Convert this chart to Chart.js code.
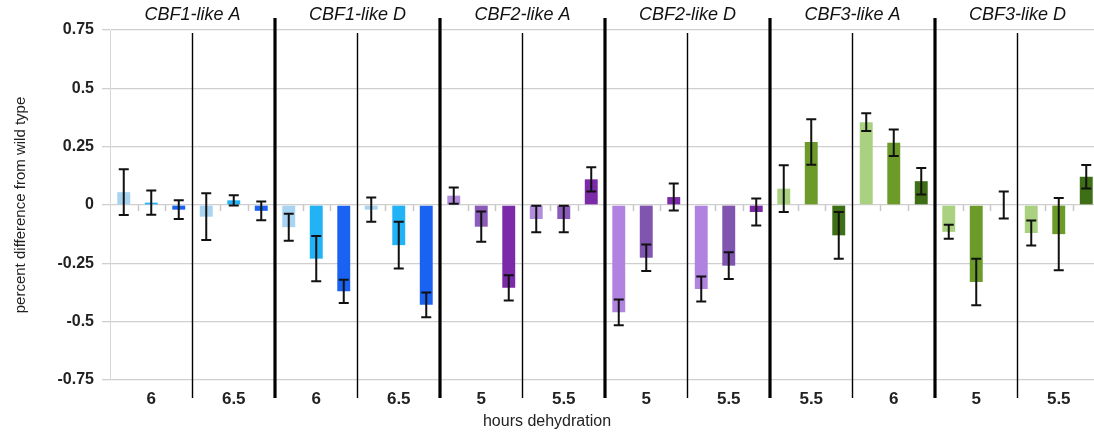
<!DOCTYPE html>
<html>
<head>
<meta charset="utf-8">
<title>CBF expression after dehydration</title>
<script src="https://cdn.jsdelivr.net/npm/chart.js@4.4.1/dist/chart.umd.min.js"></script>
<style>
  html, body { margin: 0; padding: 0; background: #fff; overflow: hidden; }
  #wrap { width: 1110px; height: 434px; }
</style>
</head>
<body>
<div id="wrap"><canvas id="chart" width="1110" height="434"></canvas></div>
<script>
"use strict";

// two time points per gene panel
const hours = ["6", "6.5", "6", "6.5", "5", "5.5", "5", "5.5", "5.5", "6", "5", "5.5"];
const panels = ["CBF1-like A", "CBF1-like D", "CBF2-like A", "CBF2-like D", "CBF3-like A", "CBF3-like D"];

// three lines per time point (light -> dark)
const line1 = [0.055, -0.05, -0.095, -0.02, 0.04, -0.06, -0.46, -0.36, 0.07, 0.355, -0.115, -0.12];
const line2 = [0.01, 0.02, -0.23, -0.172, -0.093, -0.06, -0.226, -0.26, 0.27, 0.267, -0.33, -0.125];
const line3 = [-0.02, -0.025, -0.37, -0.428, -0.355, 0.11, 0.034, -0.03, -0.13, 0.102, 0, 0.121];

const err1 = [0.098, 0.1, 0.058, 0.052, 0.035, 0.057, 0.055, 0.054, 0.1, 0.038, 0.03, 0.054];
const err2 = [0.052, 0.022, 0.097, 0.1, 0.065, 0.057, 0.057, 0.057, 0.097, 0.057, 0.1, 0.155];
const err3 = [0.04, 0.04, 0.05, 0.053, 0.054, 0.052, 0.058, 0.058, 0.1, 0.057, 0.058, 0.05];

// shades per panel
const panelColors = [
  ["#a8d3f1", "#22b2f6", "#1a62f2"],
  ["#a8d3f1", "#22b2f6", "#1a62f2"],
  ["#b28ddd", "#8a5bb9", "#7b2aa8"],
  ["#b183e0", "#7f55b0", "#7b2aa8"],
  ["#a9d17f", "#6c9b2a", "#3e6f16"],
  ["#a9d17f", "#6c9b2a", "#3e6f16"],
];

const shade = (k) => hours.map((h, i) => panelColors[Math.floor(i / 2)][k]);
const errs = [err1, err2, err3];

const FONT = "'Liberation Sans', Arial, sans-serif";

const decorations = {
  id: "decorations",
  afterDatasetsDraw(chart) {
    const { ctx, scales } = chart;
    const x = scales.x, y = scales.y;
    const step = x.getPixelForTick(1) - x.getPixelForTick(0);
    const zero = y.getPixelForValue(0);
    ctx.save();

    // small ticks on the zero line between bars
    ctx.strokeStyle = "#c8c8c8";
    ctx.lineWidth = 1.5;
    hours.forEach((h, i) => {
      const left = x.getPixelForTick(i) - step / 2;
      [1, 2].forEach((k) => {
        const px = Math.round(left + (step * k) / 3) + 0.5;
        ctx.beginPath();
        ctx.moveTo(px, zero);
        ctx.lineTo(px, zero + 6);
        ctx.stroke();
      });
    });

    // error bars
    ctx.strokeStyle = "#111";
    ctx.lineWidth = 2;
    chart.data.datasets.forEach((ds, d) => {
      const meta = chart.getDatasetMeta(d);
      meta.data.forEach((bar, i) => {
        const v = ds.data[i], e = errs[d][i];
        const top = y.getPixelForValue(v + e);
        const bot = y.getPixelForValue(v - e);
        ctx.beginPath();
        ctx.moveTo(bar.x, top);
        ctx.lineTo(bar.x, bot);
        ctx.moveTo(bar.x - 5, top);
        ctx.lineTo(bar.x + 5, top);
        ctx.moveTo(bar.x - 5, bot);
        ctx.lineTo(bar.x + 5, bot);
        ctx.stroke();
      });
    });

    // separators: thin between time points, thick between panels
    ctx.strokeStyle = "#000";
    for (let i = 0; i < hours.length - 1; i++) {
      const px = (x.getPixelForTick(i) + x.getPixelForTick(i + 1)) / 2;
      const thick = i % 2 === 1;
      ctx.lineWidth = thick ? 3.2 : 1.4;
      ctx.beginPath();
      ctx.moveTo(px, thick ? 18 : 33);
      ctx.lineTo(px, 398);
      ctx.stroke();
    }

    // panel headings
    ctx.fillStyle = "#111";
    ctx.font = "italic 18px " + FONT;
    ctx.textAlign = "center";
    ctx.textBaseline = "middle";
    panels.forEach((p, j) => {
      const cx = (x.getPixelForTick(2 * j) + x.getPixelForTick(2 * j + 1)) / 2;
      ctx.fillText(p, cx, 15);
    });

    // x axis title
    ctx.fillStyle = "#222";
    ctx.font = "16px " + FONT;
    ctx.fillText("hours dehydration", 547, 422);
    ctx.restore();
  },
};

new Chart(document.getElementById("chart"), {
  type: "bar",
  data: {
    labels: hours,
    datasets: [
      { label: "line 1", data: line1, backgroundColor: shade(0) },
      { label: "line 2", data: line2, backgroundColor: shade(1) },
      { label: "line 3", data: line3, backgroundColor: shade(2) },
    ],
  },
  options: {
    responsive: false,
    animation: false,
    devicePixelRatio: 1,
    layout: { padding: { top: 30, right: 10, left: 0, bottom: 0 } },
    datasets: {
      bar: { categoryPercentage: 1, barPercentage: 0.47, borderWidth: 0 },
    },
    plugins: {
      legend: { display: false },
      tooltip: { enabled: false },
    },
    scales: {
      x: {
        grid: { display: false, drawTicks: false },
        border: { display: false },
        ticks: {
          autoSkip: false,
          maxRotation: 0,
          padding: 9,
          color: "#222",
          font: { family: FONT, size: 17, weight: "bold" },
        },
        afterFit: (s) => { s.height = 54; },
      },
      y: {
        min: -0.75,
        max: 0.75,
        grid: { color: "#cfcfcf", lineWidth: 1.3, tickLength: 8 },
        border: { display: true, color: "#d6d6d6", width: 1 },
        ticks: {
          stepSize: 0.25,
          padding: 8,
          color: "#222",
          font: { family: FONT, size: 16, weight: "bold" },
          callback: (v) => String(+v.toFixed(2)),
        },
        title: {
          display: true,
          text: "percent difference from wild type",
          color: "#222",
          font: { family: FONT, size: 15 },
          padding: { top: 12, bottom: 0 },
        },
        afterFit: (s) => { s.width = 110; },
      },
    },
  },
  plugins: [decorations],
});
</script>
</body>
</html>
